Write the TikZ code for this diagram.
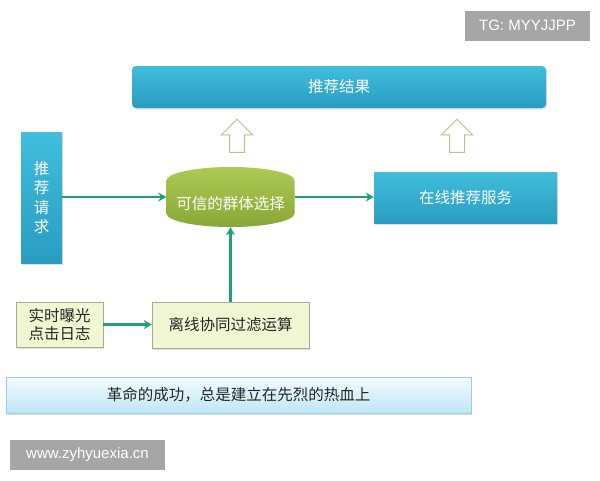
\documentclass[tikz,border=0pt]{standalone}
\usepackage{fontspec}
\setmainfont{Noto Sans CJK SC}
\newfontfamily\latinfont{Liberation Sans}
\usetikzlibrary{shapes.geometric,shapes.arrows,arrows.meta,shadows}
\definecolor{tealblue}{HTML}{40BEDC}
\definecolor{deepblue}{HTML}{2A9CC2}
\definecolor{lightolive}{HTML}{AECA55}
\definecolor{darkolive}{HTML}{88A736}
\definecolor{paleyellow}{HTML}{F0F7D2}
\definecolor{paleedge}{HTML}{A8AC90}
\definecolor{arrowgreen}{HTML}{1FA07A}
\definecolor{hollowedge}{HTML}{BFBD96}
\definecolor{skytop}{HTML}{F4FBFE}
\definecolor{skybottom}{HTML}{BFE6F6}
\definecolor{skyedge}{HTML}{9ACDE0}
\definecolor{tag}{HTML}{A6A6A6}
\tikzset{
  cjk/.style={font=\fontsize{15.5}{19}\selectfont},
  bluebox/.style={cjk, rectangle, top color=tealblue, bottom color=deepblue, text=white, inner sep=0pt,
    drop shadow={opacity=0.25, shadow xshift=1pt, shadow yshift=-1.5pt}},
  palebox/.style={cjk, rectangle, fill=paleyellow, draw=paleedge, text=black!85, inner sep=0pt,
    drop shadow={opacity=0.25, shadow xshift=1pt, shadow yshift=-1.5pt}},
  drum/.style={cjk, cylinder, shape border rotate=90, aspect=0.25, top color=lightolive, bottom color=darkolive,
    text=white, inner sep=0pt},
  hollow/.style={single arrow, shape border rotate=90, draw=hollowedge, fill=white, line width=1pt,
    inner sep=7pt, minimum width=30pt, minimum height=33pt, single arrow head extend=8pt, single arrow tip angle=90},
  tagbox/.style={rectangle, fill=tag, text=white, inner sep=0pt, font=\latinfont\fontsize{15}{18}\selectfont},
  flow/.style={arrowgreen, line width=2.4pt, -{Stealth[length=8pt,width=9pt]}}
}

\begin{document}
\begin{tikzpicture}[x=1pt,y=-1pt]
   \useasboundingbox[fill=white] (0,0) rectangle (600,480);
   % top bar and hollow arrows
   \node[bluebox, rounded corners=4pt, minimum width=414pt, minimum height=42pt] (result) at (339,87) {推荐结果};
   \node[hollow] (upleft) at (237,139.5) {};
   \node[hollow] (upright) at (457,139.5) {};
   % middle row
   \node[bluebox, minimum width=41pt, minimum height=131pt, align=center, font=\fontsize{15.5}{19.5}\selectfont] (request) at (41.5,197.5) {推\\荐\\请\\求};
   \node[drum, minimum width=128pt, minimum height=60pt, anchor=shape center] (trust) at (230.5,197) {可信的群体选择};
   \node[bluebox, minimum width=183pt, minimum height=51pt] (online) at (465.5,197.5) {在线推荐服务};
   % bottom row
   \node[palebox, minimum width=87pt, minimum height=45pt, align=center, font=\fontsize{15.5}{18}\selectfont] (log) at (59.5,324.5) {实时曝光\\点击日志};
   \node[palebox, minimum width=157pt, minimum height=46pt] (offline) at (230.5,325) {离线协同过滤运算};
   \node[cjk, rectangle, top color=skytop, bottom color=skybottom, draw=skyedge, text=black!85, inner sep=0pt,
     minimum width=465pt, minimum height=36pt,
     drop shadow={opacity=0.25, shadow xshift=1pt, shadow yshift=-1.5pt}] (motto) at (238.5,395) {革命的成功，总是建立在先烈的热血上};
   % tags
   \node[tagbox, minimum width=125pt, minimum height=30pt] (tg) at (527.5,25.5) {TG: MYYJJPP};
   \node[tagbox, minimum width=155pt, minimum height=30pt] (site) at (87.5,455) {www.zyhyuexia.cn};
   % connectors
   \draw[flow] (request.east |- trust.shape center) -- (trust.west |- trust.shape center);
   \draw[flow] (trust.east |- trust.shape center) -- (online.west |- trust.shape center);
   \draw[flow] (offline.north) -- (trust.south);
   \draw[flow] (log.east) -- (offline.west |- log.east);
\end{tikzpicture}
\end{document}
